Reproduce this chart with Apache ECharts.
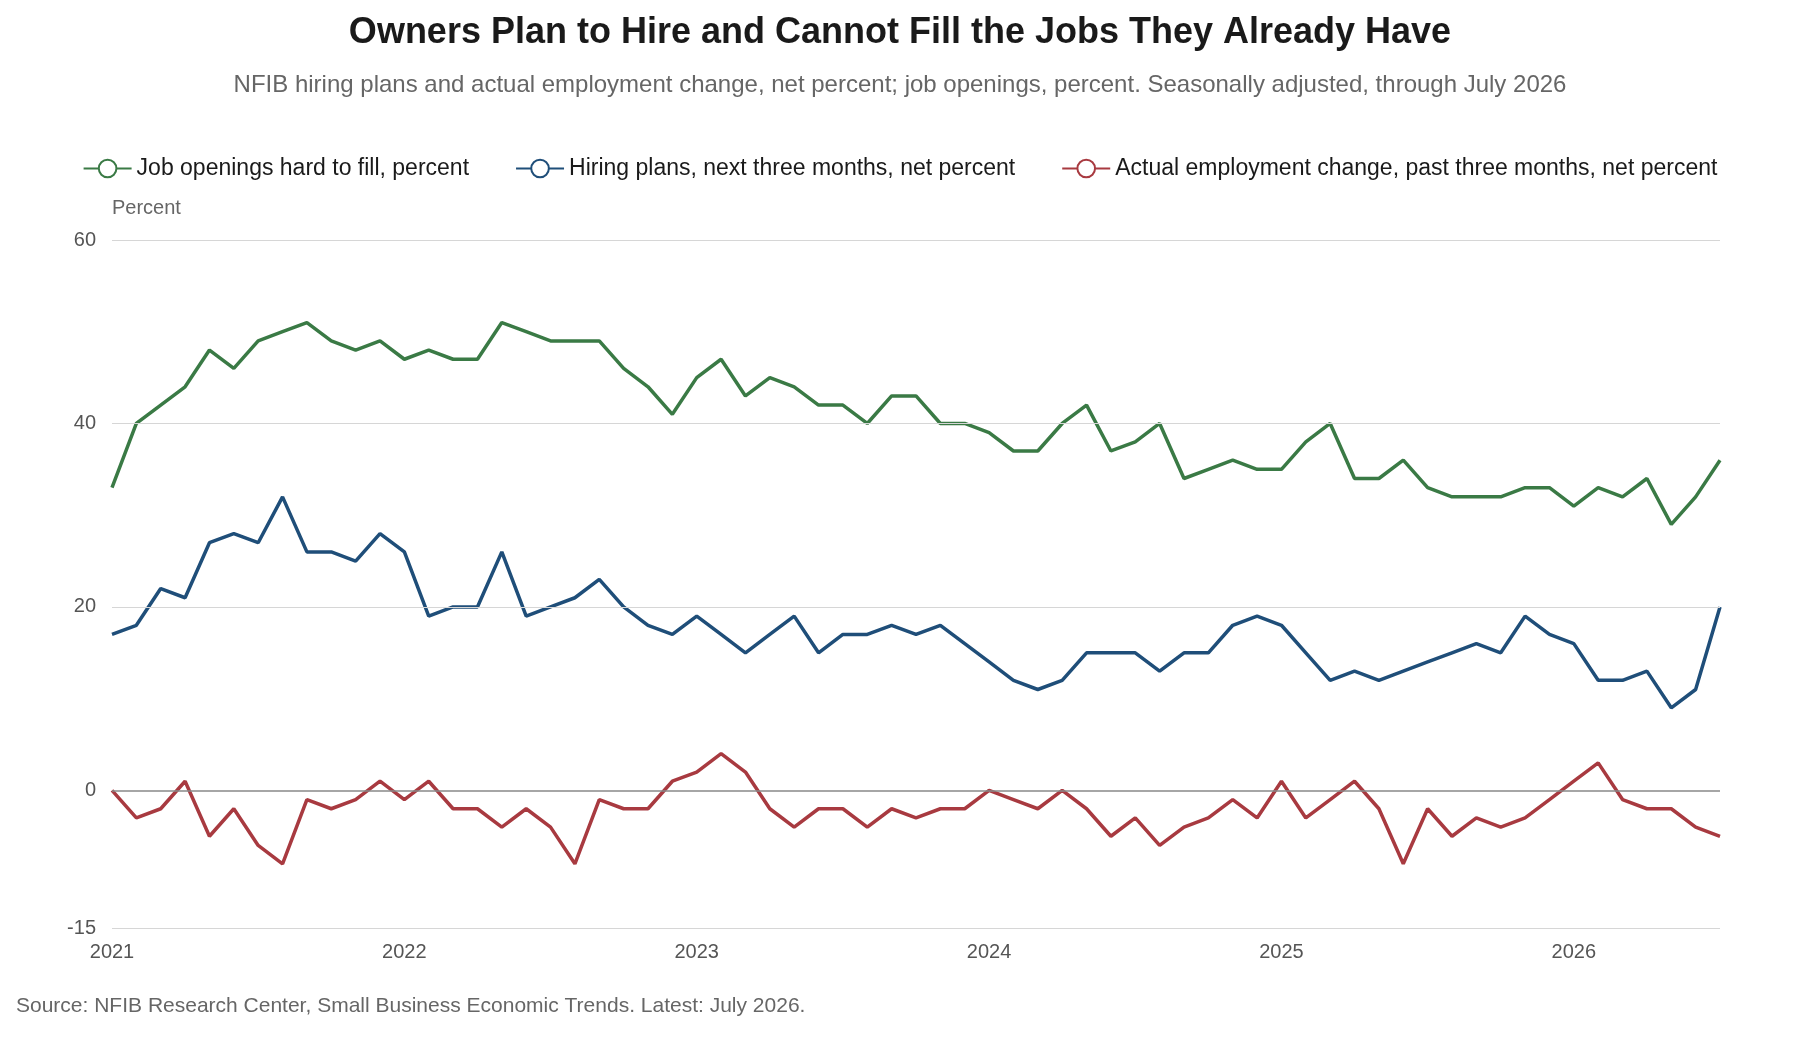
<!DOCTYPE html>
<html style="height: 100%">
<head>
<meta charset="utf-8">
<title>NFIB hiring</title>
</head>
<body style="height: 100%; margin: 0; background: #fff">
<div id="container" style="width:1800px;height:1040px"></div>
<script src="https://cdn.jsdelivr.net/npm/echarts@6/dist/echarts.min.js"></script>
<script>
// monthly, Jan 2021 .. Jul 2026
var months = [];
for (var y = 2021; y <= 2026; y++) {
    for (var m = 1; m <= 12; m++) {
        if (y === 2026 && m > 7) break;
        months.push(y + '-' + (m < 10 ? '0' + m : m));
    }
}
var hardToFill = [33,40,42,44,48,46,49,50,51,49,48,49,47,48,47,47,51,50,49,49,49,46,44,41,45,47,43,45,44,42,42,40,43,43,40,40,39,37,37,40,42,37,38,40,34,35,36,35,35,38,40,34,34,36,33,32,32,32,33,33,31,33,32,34,29,32,36];
var hiringPlans = [17,18,22,21,27,28,27,32,26,26,25,28,26,19,20,20,26,19,20,21,23,20,18,17,19,17,15,17,19,15,17,17,18,17,18,16,14,12,11,12,15,15,15,13,15,15,18,19,18,15,12,13,12,13,14,15,16,15,19,17,16,12,12,13,9,11,20];
var actualChange = [0,-3,-2,1,-5,-2,-6,-8,-1,-2,-1,1,-1,1,-2,-2,-4,-2,-4,-8,-1,-2,-2,1,2,4,2,-2,-4,-2,-2,-4,-2,-3,-2,-2,0,-1,-2,0,-2,-5,-3,-6,-4,-3,-1,-3,1,-3,-1,1,-2,-8,-2,-5,-3,-4,-3,-1,1,3,-1,-2,-2,-4,-5];
var yTicks = [-15, 0, 20, 40, 60];

var chart = echarts.init(document.getElementById('container'));
var font = 'Liberation Sans, Arial, sans-serif';

function lineSeries(name, data, color) {
    return {
        name: name, type: 'line', data: data,
        symbol: 'emptyCircle', symbolSize: 20, showSymbol: false,
        lineStyle: { color: color, width: 3.5 },
        itemStyle: { color: color, borderWidth: 3 },
        animation: false
    };
}

var s0 = lineSeries('Job openings hard to fill, percent', hardToFill, '#3a7a45');
s0.markLine = {
    silent: true, symbol: 'none', label: { show: false }, animation: false,
    data: yTicks.map(function (v) {
        return { yAxis: v, lineStyle: { type: 'solid', width: v === 0 ? 1.5 : 1, color: v === 0 ? '#888' : '#d6d6d6' } };
    })
};

var option = {
    backgroundColor: '#fff',
    textStyle: { fontFamily: font },
    title: {
        text: 'Owners Plan to Hire and Cannot Fill the Jobs They Already Have',
        subtext: 'NFIB hiring plans and actual employment change, net percent; job openings, percent. Seasonally adjusted, through July 2026',
        left: 'center', top: 10, itemGap: 22,
        textStyle: { fontSize: 36, fontWeight: 'bold', color: '#1a1a1a', fontFamily: font },
        subtextStyle: { fontSize: 24, color: '#666', fontFamily: font }
    },
    legend: {
        top: 152, left: 'center', itemWidth: 48, itemHeight: 22, itemGap: 46,
        textStyle: { fontSize: 23, color: '#1a1a1a', fontFamily: font }
    },
    grid: { left: 112, right: 80, top: 240, bottom: 112 },
    xAxis: {
        type: 'category', data: months, boundaryGap: false,
        axisLine: { show: false }, axisTick: { show: false },
        axisLabel: {
            fontSize: 20, color: '#555', margin: 14,
            interval: function (i) { return i % 12 === 0; },
            formatter: function (v) { return v.slice(0, 4); }
        }
    },
    yAxis: {
        type: 'value', min: -15, max: 60,
        name: 'Percent', nameLocation: 'end', nameGap: 22,
        nameTextStyle: { fontSize: 20, color: '#666', align: 'left', padding: [0, 0, 0, 0] },
        axisLine: { show: false }, axisTick: { show: false },
        splitLine: { show: false },
        axisLabel: { fontSize: 20, color: '#555', margin: 16, customValues: yTicks }
    },
    series: [
        s0,
        lineSeries('Hiring plans, next three months, net percent', hiringPlans, '#1f4e79'),
        lineSeries('Actual employment change, past three months, net percent', actualChange, '#a83a40')
    ],
    graphic: [{
        type: 'text', left: 16, top: 996,
        style: { text: 'Source: NFIB Research Center, Small Business Economic Trends. Latest: July 2026.', fontSize: 21, fill: '#666', fontFamily: font }
    }]
};
chart.setOption(option);
</script>
</body>
</html>
